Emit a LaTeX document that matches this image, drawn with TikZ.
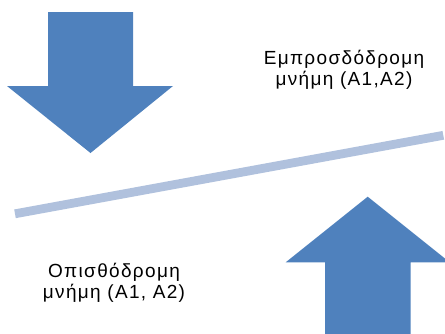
\documentclass[tikz,border=0pt]{standalone}
\usepackage{fontspec}
\setmainfont{Liberation Sans}[LetterSpace=7]
\definecolor{arrowblue}{HTML}{4F81BD}
\definecolor{lineblue}{HTML}{B0C1DD}
\begin{document}
\begin{tikzpicture}[x=1pt,y=-1pt,
  bigarrow/.style={fill=arrowblue,draw=none},
  label/.style={align=center,font=\fontsize{19}{20.8}\selectfont,inner sep=0pt,anchor=base},
  divider/.style={draw=lineblue,line width=8.8pt}]
\useasboundingbox (0,0) rectangle (445,333);
\clip (0,0) rectangle (445,333);
% down arrow
\fill[bigarrow] (48,12) -- (133,12) -- (133,86) -- (173,86) -- (90.5,153) -- (7,86) -- (48,86) -- cycle;
% up arrow
\fill[bigarrow] (325,340) -- (325,262.3) -- (285.7,262.3) -- (367.7,196.7) -- (449.7,262.3) -- (410.7,262.3) -- (410.7,340) -- cycle;
% divider
\coordinate (dl) at (15,213.8);
\coordinate (dr) at (443.3,135.3);
\draw[divider] (dl) -- (dr);
% labels
\node[label] (fwd) at (344,85) {Εμπροσδόδρομη\\μνήμη (A1,A2)};
\node[label] (bwd) at (114,298.3) {Οπισθόδρομη\\μνήμη (A1, A2)};
\end{tikzpicture}
\end{document}
